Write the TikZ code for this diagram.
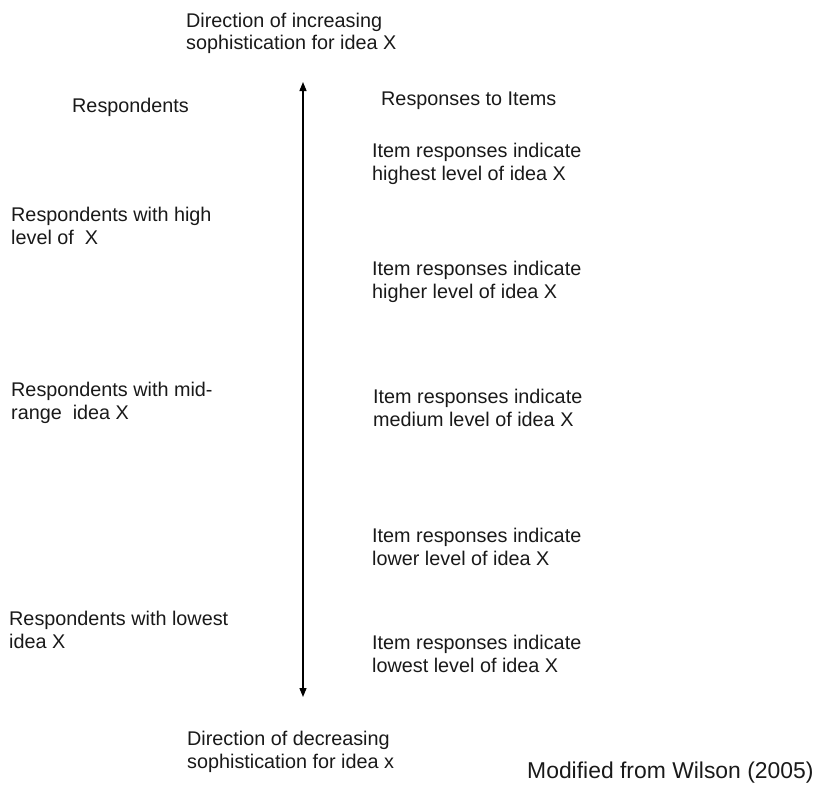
\documentclass[tikz,border=0pt]{standalone}
\usepackage{fontspec}
\setmainfont{Liberation Sans}
\usetikzlibrary{arrows.meta}
\definecolor{TextClr}{rgb}{0.1,0.1,0.1}

\begin{document}
\begin{tikzpicture}[x=1pt,y=-1pt,
  txt/.style={inner sep=0pt,anchor=west,align=left,text=TextClr,
    font=\fontsize{19.8}{22.5}\selectfont},
  axis/.style={line width=1.3pt,{Triangle[length=9pt,width=7pt]}-{Triangle[length=9pt,width=7pt]}}]
\useasboundingbox (0,0) rectangle (817,787);

\coordinate (Top) at (303,82);
\coordinate (Bot) at (303,697);
\draw[axis] (Top) -- (Bot);

\node[txt] (Inc) at (186,33.5) {Direction of increasing\\sophistication for idea X};
\node[txt] (Dec) at (187,752) {Direction of decreasing\\sophistication for idea x};

\node[txt] (Resp) at (72,107) {Respondents};
\node[txt] (Items) at (381,101) {Responses to Items};

\node[txt] (RHigh) at (11,226) {Respondents with high\\level of\ \ X};
\node[txt] (RMid) at (11,403) {Respondents with mid-\\range\ \ idea X};
\node[txt] (RLow) at (9,630) {Respondents with lowest\\idea X};

\node[txt] (IHighest) at (372,164) {Item responses indicate\\highest level of idea X};
\node[txt] (IHigher) at (372,282) {Item responses indicate\\higher level of idea X};
\node[txt] (IMedium) at (373,408) {Item responses indicate\\medium level of idea X};
\node[txt] (ILower) at (372,547) {Item responses indicate\\lower level of idea X};
\node[txt] (ILowest) at (372,654) {Item responses indicate\\lowest level of idea X};

\node[txt,font=\fontsize{22.9}{24}\selectfont] (Src) at (527,773) {Modified from Wilson (2005)};

\end{tikzpicture}
\end{document}
